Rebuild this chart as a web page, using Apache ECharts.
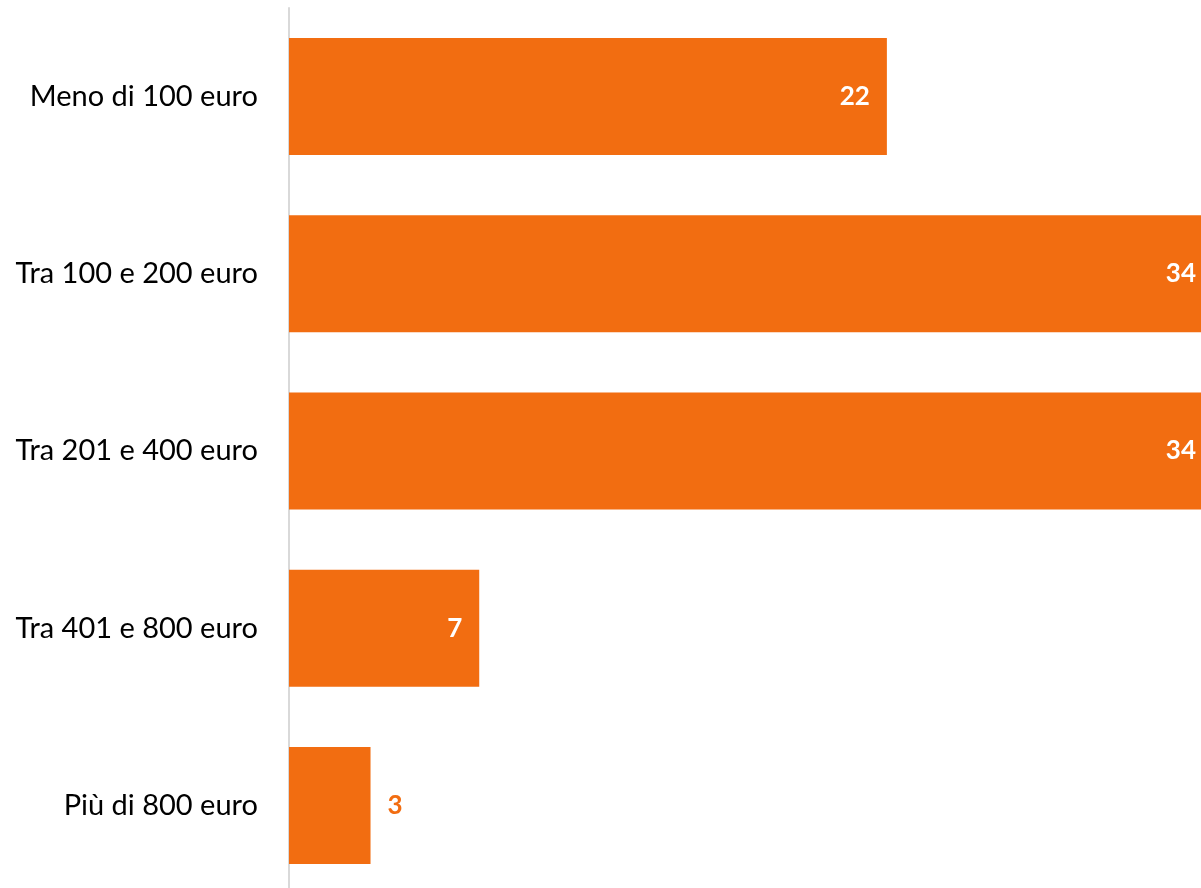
<!DOCTYPE html>
<html>
<head>
<meta charset="utf-8">
<script src="https://cdn.jsdelivr.net/npm/echarts@6/dist/echarts.min.js"></script>
<style>
  html, body { margin: 0; padding: 0; background: #ffffff; }
  #chart { width: 1201px; height: 888px; }
</style>
</head>
<body>
<div id="chart"></div>
<script>
// Spending brackets and share of respondents (%)
const categories = ['Meno di 100 euro', 'Tra 100 e 200 euro', 'Tra 201 e 400 euro', 'Tra 401 e 800 euro', 'Più di 800 euro'];
const values = [22, 34, 34, 7, 3];

const ORANGE = '#f26d11';
const FONT = 'Lato, "Open Sans", sans-serif';

// Small bars cannot hold their label, so it goes outside in orange
const SMALL = 5;

const data = values.map(v => ({
  value: v,
  label: v < SMALL
    ? { position: 'right', color: ORANGE }
    : { position: 'insideRight', color: '#ffffff' }
}));

const chart = echarts.init(document.getElementById('chart'));
chart.setOption({
  animation: false,
  // the plot runs slightly past the right and bottom edges of the canvas
  grid: {
    left: 289, top: 8, width: 924, height: 886,
    containLabel: false,
    outerBoundsMode: 'none'
  },
  xAxis: {
    type: 'value',
    min: 0,
    max: 34,
    show: false
  },
  yAxis: {
    type: 'category',
    inverse: true,
    data: categories,
    axisLine: { show: true, lineStyle: { color: '#d9d9d9', width: 2 } },
    axisTick: { show: false },
    axisLabel: {
      margin: 31,
      fontFamily: FONT,
      fontSize: 29,
      color: '#000000'
    }
  },
  series: [{
    type: 'bar',
    data: data,
    barCategoryGap: '34%',
    itemStyle: { color: ORANGE },
    label: {
      show: true,
      distance: 17,
      fontFamily: FONT,
      fontSize: 26,
      fontWeight: 'bold'
    }
  }]
});
</script>
</body>
</html>
